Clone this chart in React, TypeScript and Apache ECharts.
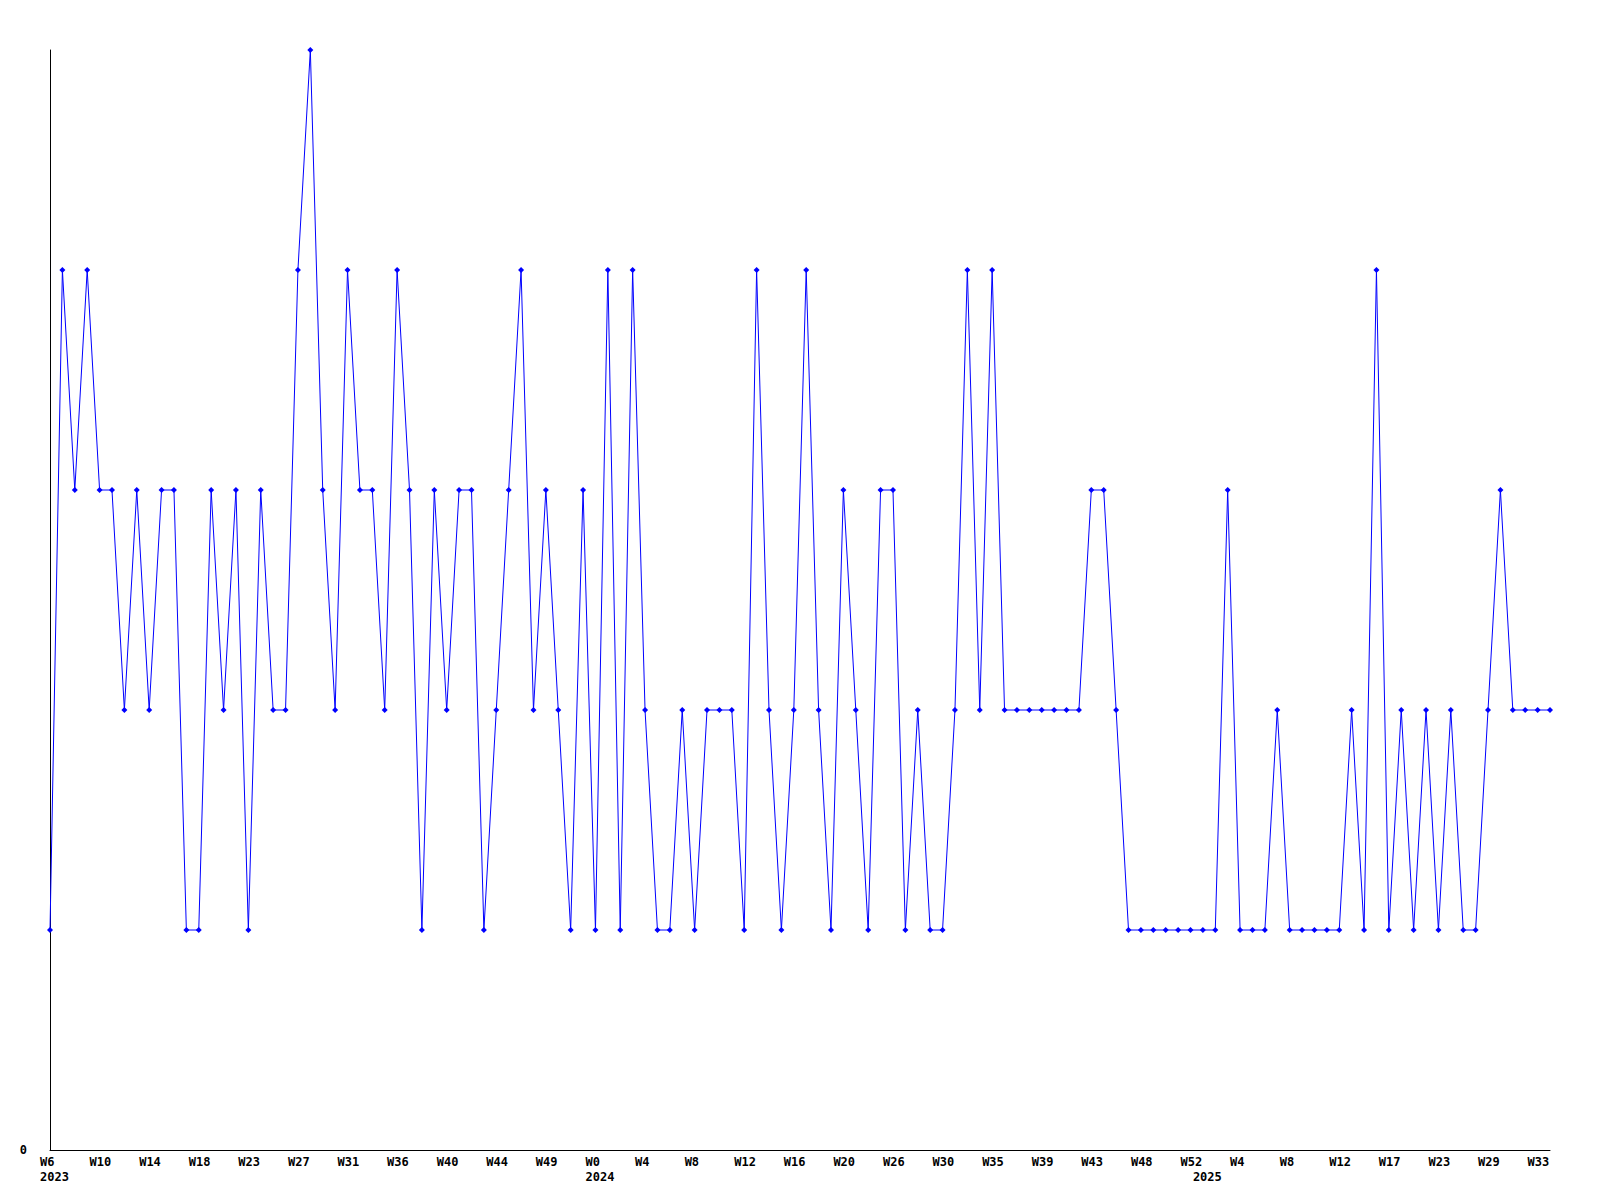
import React, { useEffect, useRef } from "react";
import * as echarts from "echarts";

// Weekly values, 2023 W6 .. 2025 W33
const values: number[] = [
  1, 4, 3, 4, 3, 3, 2, 3, 2, 3,
  3, 1, 1, 3, 2, 3, 1, 3, 2, 2,
  4, 5, 3, 2, 4, 3, 3, 2, 4, 3,
  1, 3, 2, 3, 3, 1, 2, 3, 4, 2,
  3, 2, 1, 3, 1, 4, 1, 4, 2, 1,
  1, 2, 1, 2, 2, 2, 1, 4, 2, 1,
  2, 4, 2, 1, 3, 2, 1, 3, 3, 1,
  2, 1, 1, 2, 4, 2, 4, 2, 2, 2,
  2, 2, 2, 2, 3, 3, 2, 1, 1, 1,
  1, 1, 1, 1, 1, 3, 1, 1, 1, 2,
  1, 1, 1, 1, 1, 2, 1, 4, 1, 2,
  1, 2, 1, 2, 1, 1, 2, 3, 2, 2,
  2, 2,
];

const categories: string[] = values.map((_, i) => String(i));

// Tick labels shown every 4th point
const tickLabels: string[] = [
  "W6", "W10", "W14", "W18", "W23", "W27", "W31", "W36", "W40", "W44",
  "W49", "W0", "W4", "W8", "W12", "W16", "W20", "W26", "W30", "W35",
  "W39", "W43", "W48", "W52", "W4", "W8", "W12", "W17", "W23", "W29",
  "W33",
];
const tickStep = 4;

const yearLabels: string[] = ["2023", "2024", "2025"];
const yearIndices: number[] = [0, 44, 93];

const FONT = "DejaVu Sans Mono";

export default function App() {
  const ref = useRef<HTMLDivElement>(null);

  useEffect(() => {
    if (!ref.current) return;
    const chart = echarts.init(ref.current, undefined, { renderer: "svg" });
    chart.setOption({
      animation: false,
      backgroundColor: "#ffffff",
      grid: { left: 50, right: 50, top: 50, bottom: 50, containLabel: false },
      xAxis: [
        {
          type: "category",
          data: categories,
          boundaryGap: false,
          axisLine: { show: true, onZero: false, lineStyle: { color: "#000000", width: 1 } },
          axisTick: { show: false },
          splitLine: { show: false },
          axisLabel: {
            interval: tickStep - 1,
            formatter: (_v: string, i: number) => tickLabels[Math.round(i / tickStep)] ?? "",
            align: "left",
            padding: [0, 0, 0, -10],
            margin: 6,
            color: "#000000",
            fontFamily: FONT,
            fontWeight: "bold",
            fontSize: 12,
          },
        },
        {
          type: "category",
          data: categories,
          position: "bottom",
          boundaryGap: false,
          axisLine: { show: false },
          axisTick: { show: false },
          splitLine: { show: false },
          axisLabel: {
            interval: (i: number) => yearIndices.indexOf(i) >= 0,
            formatter: (_v: string, i: number) => {
              const k = yearIndices.indexOf(i);
              return k >= 0 ? yearLabels[k] : "";
            },
            align: "left",
            padding: [0, 0, 0, -10],
            margin: 21,
            color: "#000000",
            fontFamily: FONT,
            fontWeight: "bold",
            fontSize: 12,
          },
        },
      ],
      yAxis: {
        type: "value",
        min: 0,
        max: 5,
        interval: 1,
        axisLine: { show: true, lineStyle: { color: "#000000", width: 1 } },
        axisTick: { show: false },
        splitLine: { show: false },
        axisLabel: {
          formatter: (v: number) => (v === 0 ? "0" : ""),
          margin: 23,
          color: "#000000",
          fontFamily: FONT,
          fontWeight: "bold",
          fontSize: 12,
        },
      },
      series: [
        {
          type: "line",
          data: values,
          xAxisIndex: 0,
          showAllSymbol: true,
          symbol: "diamond",
          symbolSize: 6,
          itemStyle: { color: "#0000ff" },
          lineStyle: { color: "#0000ff", width: 1 },
          emphasis: { disabled: true },
        },
      ],
    });
    return () => chart.dispose();
  }, []);

  return (
    <div
      ref={ref}
      style={{ position: "absolute", left: 0, top: 0, width: 1600, height: 1200 }}
    />
  );
}
